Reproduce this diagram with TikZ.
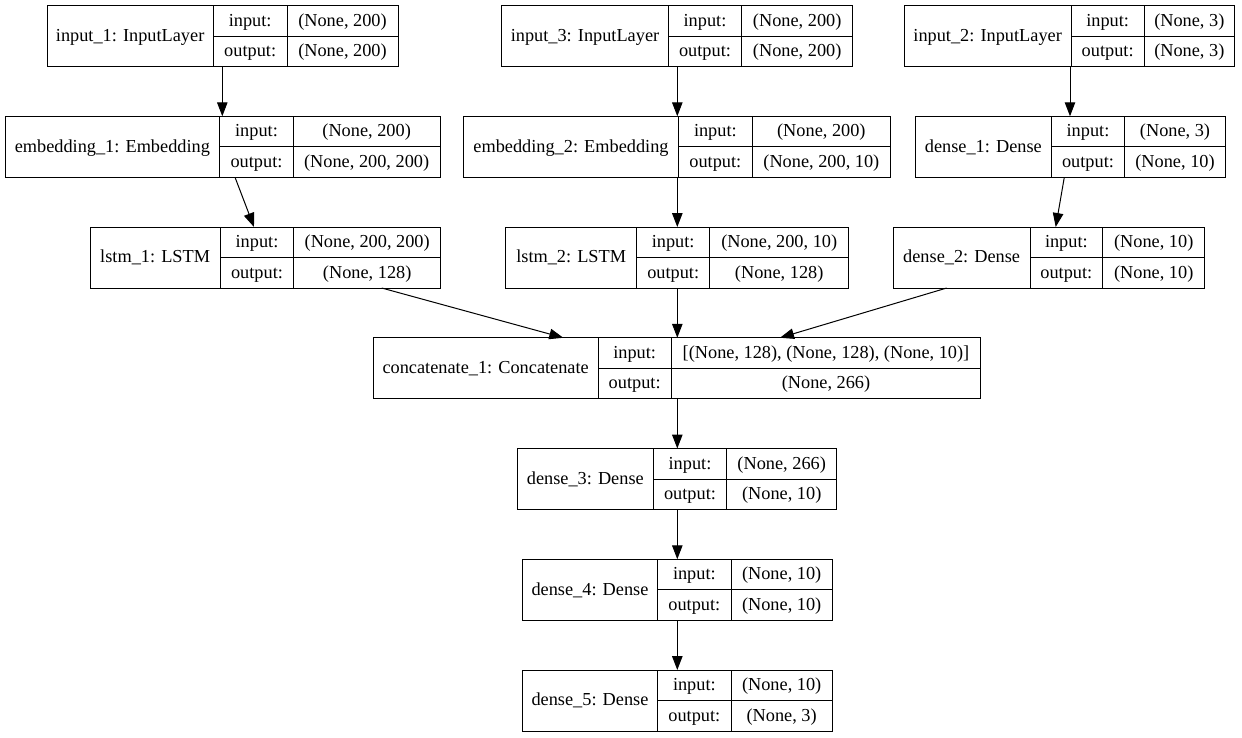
\documentclass[tikz,border=0pt]{standalone}
\usepackage{fontspec}
\setmainfont{Liberation Serif}
\usetikzlibrary{arrows.meta}
\tikzset{
  recbox/.style={draw=black, line width=1pt, inner sep=0pt, outer sep=0pt, anchor=north west, minimum height=61pt},
  divline/.style={draw=black, line width=1pt},
  celltxt/.style={font=\fontsize{18.3}{20}\selectfont, inner sep=0pt, anchor=base},
  arr/.style={draw=black, line width=1pt, -{Triangle[length=14pt,width=10.5pt]}}
}
% #1 name, #2 left, #3 d1, #4 d2, #5 right, #6 top, #7 label, #8 input, #9 output
\newcommand\kerasrec[9]{%
  \node[recbox, minimum width={#5pt-#2pt}] (#1) at (#2pt,-#6pt) {};
  \draw[divline] (#3pt,-#6pt) -- ++(0,-61pt);
  \draw[divline] (#4pt,-#6pt) -- ++(0,-61pt);
  \draw[divline] (#3pt,{-#6pt-30.5pt}) -- (#5pt,{-#6pt-30.5pt});
  \node[celltxt] (#1-lbl) at ({(#2pt+#3pt)/2},{-#6pt-35.8pt}) {#7};
  \node[celltxt] (#1-ik) at ({(#3pt+#4pt)/2},{-#6pt-20.6pt}) {input:};
  \node[celltxt] (#1-iv) at ({(#4pt+#5pt)/2},{-#6pt-20.6pt}) {#8};
  \node[celltxt] (#1-ok) at ({(#3pt+#4pt)/2},{-#6pt-51.1pt}) {output:};
  \node[celltxt] (#1-ov) at ({(#4pt+#5pt)/2},{-#6pt-51.1pt}) {#9};
}
\begin{document}
\begin{tikzpicture}
\useasboundingbox[fill=white] (0,0) rectangle (1242pt,-737pt);
\kerasrec{in1}{47}{213.3}{287}{398}{5.5}{input\_1: InputLayer}{(None, 200)}{(None, 200)}
\kerasrec{in3}{501.7}{668.3}{741.7}{852.7}{5.5}{input\_3: InputLayer}{(None, 200)}{(None, 200)}
\kerasrec{in2}{904.3}{1071}{1144.3}{1234.3}{5.5}{input\_2: InputLayer}{(None, 3)}{(None, 3)}
\kerasrec{emb1}{5}{219.7}{293.3}{440}{116.25}{embedding\_1: Embedding}{(None, 200)}{(None, 200, 200)}
\kerasrec{emb2}{463.3}{678.7}{752}{890.7}{116.25}{embedding\_2: Embedding}{(None, 200)}{(None, 200, 10)}
\kerasrec{d1}{915}{1051.7}{1124.3}{1225.7}{116.25}{dense\_1: Dense}{(None, 3)}{(None, 10)}
\kerasrec{lstm1}{90}{220.3}{293.7}{440.7}{227}{lstm\_1: LSTM}{(None, 200, 200)}{(None, 128)}
\kerasrec{lstm2}{505.7}{636.7}{709.7}{848.7}{227}{lstm\_2: LSTM}{(None, 200, 10)}{(None, 128)}
\kerasrec{d2}{893.3}{1030}{1102.7}{1204.7}{227}{dense\_2: Dense}{(None, 10)}{(None, 10)}
\kerasrec{cat}{373.3}{598}{671.3}{980.7}{337.75}{concatenate\_1: Concatenate}{[(None, 128), (None, 128), (None, 10)]}{(None, 266)}
\kerasrec{d3}{517.3}{653.3}{726.7}{836.7}{448.5}{dense\_3: Dense}{(None, 266)}{(None, 10)}
\kerasrec{d4}{522.3}{657.7}{731}{832.3}{559.25}{dense\_4: Dense}{(None, 10)}{(None, 10)}
\kerasrec{d5}{522.3}{657.7}{731}{832.3}{670}{dense\_5: Dense}{(None, 10)}{(None, 3)}
% connectors
\draw[arr] ([xshift=175.3pt]in1.south west) -- ([xshift=217.3pt]emb1.north west);
\draw[arr] ([xshift=230pt]emb1.south west) -- ([xshift=164pt]lstm1.north west);
\draw[arr] ([xshift=175.6pt]in3.south west) -- ([xshift=214pt]emb2.north west);
\draw[arr] ([xshift=214pt]emb2.south west) -- ([xshift=171.6pt]lstm2.north west);
\draw[arr] ([xshift=165.7pt]in2.south west) -- ([xshift=155pt]d1.north west);
\draw[arr] ([xshift=149.3pt]d1.south west) -- ([xshift=162.4pt]d2.north west);
\draw[arr] ([xshift=291.7pt]lstm1.south west) -- ([xshift=190pt]cat.north west);
\draw[arr] ([xshift=171.6pt]lstm2.south west) -- ([xshift=304pt]cat.north west);
\draw[arr] ([xshift=53.4pt]d2.south west) -- ([xshift=406.7pt]cat.north west);
\draw[arr] ([xshift=304pt]cat.south west) -- ([xshift=160pt]d3.north west);
\draw[arr] ([xshift=160pt]d3.south west) -- ([xshift=155pt]d4.north west);
\draw[arr] ([xshift=155pt]d4.south west) -- ([xshift=155pt]d5.north west);
\end{tikzpicture}
\end{document}
